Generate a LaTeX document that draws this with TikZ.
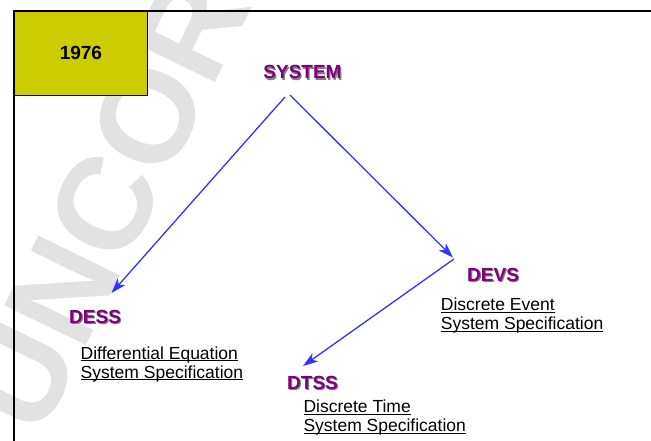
\documentclass[tikz,border=0pt]{standalone}
\usepackage{fontspec}
\setmainfont{Liberation Sans}
\usetikzlibrary{calc, positioning, arrows.meta}

\definecolor{yearyellow}{RGB}{204,204,0}
\definecolor{sysPurple}{RGB}{128,0,128}
\definecolor{flowblue}{RGB}{51,51,255}
\definecolor{markgray}{RGB}{226,226,226}

\newcommand{\dropshadow}[1]{\makebox[0pt][l]{\kern1.2pt\raisebox{-1.2pt}{\textcolor{black!50}{#1}}}#1}
\newcommand{\specline}[1]{\underline{\smash{#1}}}

\begin{document}
\begin{tikzpicture}[
    x=1pt, y=-1pt,
    >=Stealth,
    year_box/.style={draw, fill=yearyellow, line width=0.8pt, anchor=north west, minimum width=133pt, minimum height=84pt, inner sep=0pt, font=\fontsize{19}{23}\selectfont\bfseries},
    sys_label/.style={text=sysPurple, font=\fontsize{19}{23}\selectfont\bfseries, inner sep=0pt, anchor=base west},
    spec_font/.style={font=\fontsize{17.5}{19.2}\selectfont, align=left, inner sep=0pt, anchor=base west},
    flow/.style={->, draw=flowblue, line width=1.3pt, >={Stealth[length=15pt, width=10pt, inset=4pt]}}
]
    \useasboundingbox (0,0) rectangle (651,441);

    % Watermark
    \node[text=markgray, font=\fontsize{132}{134}\selectfont\bfseries, rotate=64] (mark) at (106,202) {UNCOR};

    % Frame
    \draw[line width=2pt] (651,11) -- (14,11) -- (14,441);

    % Year
    \node[year_box] (year) at (14,11) {1976};

    % Formalisms
    \node[sys_label, anchor=base] (system) at (302.5,79) {\dropshadow{SYSTEM}};
    \node[sys_label] (dess) at (69,323) {\dropshadow{DESS}};
    \node[sys_label] (devs) at (467,281.5) {\dropshadow{DEVS}};
    \node[sys_label] (dtss) at (287,389) {\dropshadow{DTSS}};

    % Descriptions (base = last line)
    \node[spec_font] (dess_spec) at ($(dess.base west)+(11.5,55.2)$) {\specline{Differential Equation}\\\specline{System Specification}};
    \node[spec_font] (devs_spec) at ($(devs.base west)+(-26.3,48.4)$) {\specline{Discrete Event}\\\specline{System Specification}};
    \node[spec_font] (dtss_spec) at ($(dtss.base west)+(16.3,42.9)$) {\specline{Discrete Time}\\\specline{System Specification}};

    % Connections
    \draw[flow] ($(system.base)+(-17.5,18)$) -- ($(dess.base west)+(42.5,-30)$);
    \draw[flow] ($(system.base)+(-12.5,16)$) -- ($(devs.base west)+(-14,-24)$);
    \draw[flow] ($(devs.base west)+(-13,-22.5)$) -- ($(dtss.base west)+(16,-23)$);

\end{tikzpicture}
\end{document}
